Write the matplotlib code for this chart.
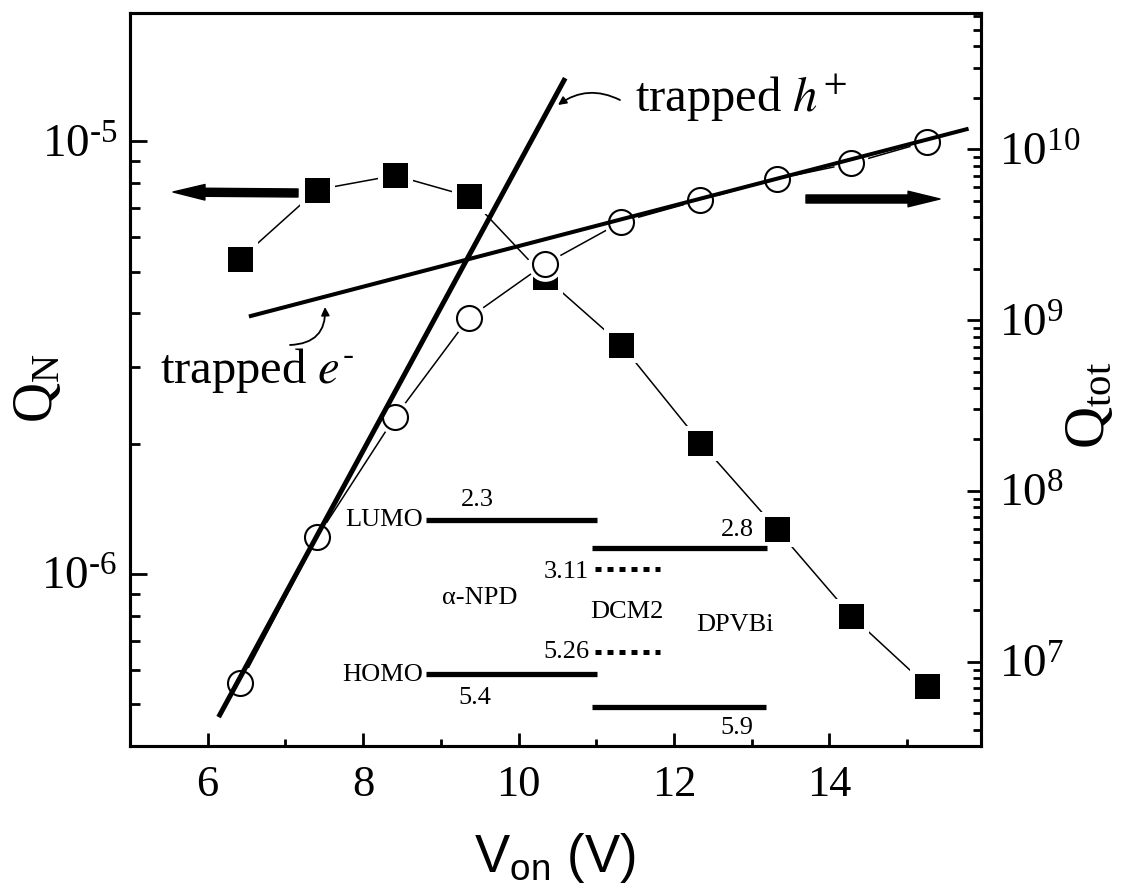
import matplotlib
matplotlib.use('Agg')
import matplotlib.pyplot as plt
from matplotlib.ticker import FixedLocator, FixedFormatter, LogLocator, NullFormatter, MultipleLocator

plt.rcParams['font.family'] = ['Liberation Serif', 'DejaVu Serif']
plt.rcParams['mathtext.fontset'] = 'stix'

# ---------------- data ----------------
v_on = [6.42, 7.41, 8.41, 9.36, 10.34, 11.32, 12.34, 13.32, 14.28, 15.26]
q_n = [5.35e-6, 7.73e-6, 8.34e-6, 7.46e-6, 4.85e-6, 3.39e-6, 2.01e-6, 1.27e-6, 8.0e-7, 5.5e-7]
q_tot = [7.5e6, 5.37e7, 2.71e8, 1.03e9, 2.13e9, 3.75e9, 5.05e9, 6.70e9, 8.28e9, 1.11e10]

hole_fit_v = [6.14, 10.60]
hole_fit_q = [4.74e6, 2.61e10]
elec_fit_v = [6.53, 15.79]
elec_fit_q = [1.05e9, 1.32e10]

x_ticks = [6, 8, 10, 12, 14]
x_ticklabels = ['6', '8', '10', '12', '14']
left_ticks = [1e-6, 1e-5]
left_ticklabels = ['$\\mathregular{10^{\u20106}}$', '$\\mathregular{10^{\u20105}}$']
right_ticks = [1e7, 1e8, 1e9, 1e10]
right_ticklabels = [r'$\mathregular{10^{7}}$', r'$\mathregular{10^{8}}$',
                    r'$\mathregular{10^{9}}$', r'$\mathregular{10^{10}}$']

# energy level diagram (labels in eV)
level_labels = ['2.3', '2.8', '3.11', '5.26', '5.4', '5.9']
material_labels = ['α-NPD', 'DCM2', 'DPVBi']

# ---------------- figure ----------------
W, H = 1132, 891
fig = plt.figure(figsize=(W / 100, H / 100), dpi=100)
L, R, T, B = 130, 981, 13, 746
ax = fig.add_axes([L / W, (H - B) / H, (R - L) / W, (B - T) / H])
ax2 = ax.twinx()


def pax(px, py):
    return ((px - L) / (R - L), (B - py) / (B - T))


ax.set_xlim(5, 15.95)
ax.set_yscale('log')
ax.set_ylim(4.0e-7, 1.98e-5)
ax2.set_yscale('log')
ax2.set_ylim(3.21e6, 6.28e10)

# Q_N squares
ax.plot(v_on, q_n, '-', color='k', lw=1.1, zorder=2)
ax.plot(v_on, q_n, 's', ms=20.9, mfc='k', mec='white', mew=3.6, zorder=3)

# Q_tot circles
ax2.plot(v_on, q_tot, '-', color='k', lw=1.1, zorder=2)
ax2.plot(v_on, q_tot, 'o', ms=25, mfc='white', mec='none', zorder=3)
ax2.plot(v_on, q_tot, 'o', ms=18, mfc='white', mec='k', mew=1.5, zorder=4)

# fits
ax2.plot(hole_fit_v, hole_fit_q, '-', color='k', lw=3.6, zorder=5, solid_capstyle='butt')
ax2.plot(elec_fit_v, elec_fit_q, '-', color='k', lw=2.9, zorder=5, solid_capstyle='butt')

# direction arrows
arrow_style = 'simple,head_length=1.15,head_width=0.56,tail_width=0.29'
ax2.annotate('', xy=pax(173, 192), xytext=pax(298, 193), xycoords='axes fraction',
             textcoords='axes fraction',
             arrowprops=dict(arrowstyle=arrow_style, color='k', shrinkA=0, shrinkB=0,
                             mutation_scale=20), zorder=6)
ax2.annotate('', xy=pax(940, 199), xytext=pax(806, 199), xycoords='axes fraction',
             textcoords='axes fraction',
             arrowprops=dict(arrowstyle=arrow_style, color='k', shrinkA=0, shrinkB=0,
                             mutation_scale=20), zorder=6)

# trapped labels with pointers
ax2.text(*pax(635, 112), r'trapped $h^{+}$', transform=ax2.transAxes, fontsize=35,
         ha='left', va='baseline', zorder=6)
ax2.annotate('', xy=pax(558, 105), xytext=pax(620, 100), xycoords='axes fraction',
             textcoords='axes fraction',
             arrowprops=dict(arrowstyle='-|>', connectionstyle='arc3,rad=0.3', lw=1.3,
                             color='k', mutation_scale=12, shrinkA=0, shrinkB=0), zorder=6)
ax2.text(*pax(160, 383), 'trapped $e^{\u2010}$', transform=ax2.transAxes, fontsize=35,
         ha='left', va='baseline', zorder=6)
ax2.annotate('', xy=pax(325, 307), xytext=pax(290, 345), xycoords='axes fraction',
             textcoords='axes fraction',
             arrowprops=dict(arrowstyle='-|>', connectionstyle='arc3,rad=0.5', lw=1.3,
                             color='k', mutation_scale=12, shrinkA=0, shrinkB=0), zorder=6)

# energy level diagram
solid_levels = [((426, 597), 520), ((592, 767), 548.5), ((426, 597), 673.5), ((592, 766), 707)]
dotted_levels = [((595, 660), 569), ((595, 660), 652.3)]
for (x1, x2), y in solid_levels:
    p1, p2 = pax(x1, y), pax(x2, y)
    ax2.plot([p1[0], p2[0]], [p1[1], p2[1]], transform=ax2.transAxes, color='k', lw=3.8,
             solid_capstyle='butt', zorder=6)
for (x1, x2), y in dotted_levels:
    p1, p2 = pax(x1, y), pax(x2, y)
    ax2.plot([p1[0], p2[0]], [p1[1], p2[1]], transform=ax2.transAxes, color='k', lw=3.6,
             linestyle=(0, (1.2, 1.2)), dash_capstyle='butt', zorder=6)

efs = 19
text_specs = [
    ('LUMO', (423, 520), 'right'),
    ('HOMO', (423, 675), 'right'),
    (level_labels[0], (477, 500), 'center'),
    (level_labels[1], (737, 530), 'center'),
    (level_labels[2], (589, 572), 'right'),
    (level_labels[3], (589, 652), 'right'),
    (level_labels[4], (475, 698), 'center'),
    (level_labels[5], (737, 728), 'center'),
    (material_labels[0], (480, 598), 'center'),
    (material_labels[1], (627, 612), 'center'),
    (material_labels[2], (735, 625), 'center'),
]
for s, (px, py), ha in text_specs:
    ax2.text(*pax(px, py), s, transform=ax2.transAxes, fontsize=efs, ha=ha, va='center',
             zorder=6)

# ---------------- axes styling ----------------
for a in (ax, ax2):
    for sp in a.spines.values():
        sp.set_linewidth(2.2)

ax.xaxis.set_major_locator(FixedLocator(x_ticks))
ax.xaxis.set_major_formatter(FixedFormatter(x_ticklabels))
ax.xaxis.set_minor_locator(MultipleLocator(1))
ax.yaxis.set_major_locator(FixedLocator(left_ticks))
ax.yaxis.set_major_formatter(FixedFormatter(left_ticklabels))
ax.yaxis.set_minor_locator(LogLocator(base=10, subs=range(2, 10), numticks=20))
ax.yaxis.set_minor_formatter(NullFormatter())
ax2.yaxis.set_major_locator(FixedLocator(right_ticks))
ax2.yaxis.set_major_formatter(FixedFormatter(right_ticklabels))
ax2.yaxis.set_minor_locator(LogLocator(base=10, subs=range(2, 10), numticks=20))
ax2.yaxis.set_minor_formatter(NullFormatter())

ax.tick_params(axis='x', which='major', direction='in', length=9.5, width=2, top=False,
               labelsize=32, pad=14)
ax.tick_params(axis='x', which='minor', direction='in', length=5, width=2, top=False)
ax.tick_params(axis='y', which='major', direction='in', length=12, width=2, right=False,
               labelsize=34, pad=9)
ax.tick_params(axis='y', which='minor', direction='in', length=7, width=2, right=False)
ax2.tick_params(axis='y', which='major', direction='in', length=10, width=2,
                labelsize=34, pad=13)
ax2.tick_params(axis='y', which='minor', direction='in', length=6, width=2)

# axis labels
fig.text(555 / W, 1 - 858 / H, r'$\mathregular{V_{on}}$ (V)',
         family=['Liberation Sans Narrow', 'Liberation Sans', 'DejaVu Sans'],
         fontsize=38, ha='center', va='center')
fig.text(38 / W, 1 - 388 / H, r'$\mathregular{Q_{N}}$', fontsize=40, rotation=90,
         ha='center', va='center')
fig.text(1090 / W, 1 - 405 / H, r'$\mathregular{Q_{tot}}$', fontsize=42, rotation=90,
         ha='center', va='center')

fig.savefig('out.png', dpi=100)
